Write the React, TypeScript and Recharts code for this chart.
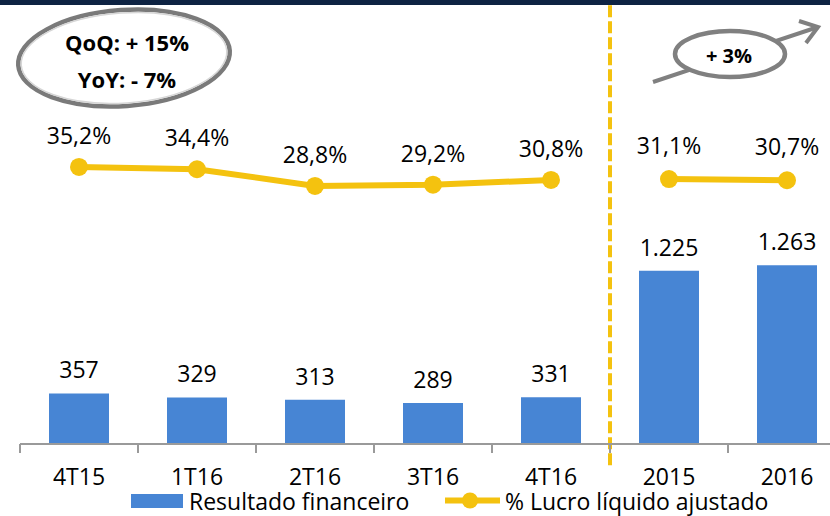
import React from "react";
import {
  ComposedChart,
  Bar,
  Line,
  XAxis,
  YAxis,
  Legend,
  LabelList,
  ReferenceLine,
} from "recharts";

const categories = ["4T15", "1T16", "2T16", "3T16", "4T16", "2015", "2016"];
const resultado = [357, 329, 313, 289, 331, 1225, 1263];
const lucroPct = [35.2, 34.4, 28.8, 29.2, 30.8, 31.1, 30.7];
const periodo = ["tri", "tri", "tri", "tri", "tri", "ano", "ano"];

const data = categories.map((cat, i) => ({
  cat,
  resultado: resultado[i],
  pctTri: periodo[i] === "tri" ? lucroPct[i] : null,
  pctAno: periodo[i] === "ano" ? lucroPct[i] : null,
}));

const BLUE = "#4785D4";
const YELLOW = "#F4C20F";
const NAVY = "#0E2343";
const FONT = "'Open Sans', sans-serif";

const fmtMil = (v: any) =>
  v == null ? "" : String(v).replace(/\B(?=(\d{3})+(?!\d))/g, ".");
const fmtPct = (v: any) =>
  v == null ? "" : Number(v).toFixed(1).replace(".", ",") + "%";

function CatTick(props: any) {
  const { x, y, payload } = props;
  const half = payload && payload.offset ? payload.offset : 59;
  return (
    <g>
      <line
        x1={x - half}
        x2={x - half}
        y1={y - 25}
        y2={y - 16}
        stroke="#9a9a9a"
        strokeWidth={2}
      />
      <text
        x={x}
        y={y + 16}
        textAnchor="middle"
        fontFamily={FONT}
        fontSize={23}
        fill="#000"
      >
        {payload.value}
      </text>
    </g>
  );
}

function LegendBox() {
  return (
    <svg width={830} height={24} style={{ display: "block", overflow: "visible" }}>
      <rect x={131} y={2} width={52} height={14} fill={BLUE} />
      <text x={189} y={18} fontFamily={FONT} fontSize={23} fill="#000">
        Resultado financeiro
      </text>
      <line x1={445} x2={500} y1={8.5} y2={8.5} stroke={YELLOW} strokeWidth={6} />
      <circle cx={470} cy={8.5} r={8} fill={YELLOW} />
      <text x={505} y={18} fontFamily={FONT} fontSize={23} fill="#000">
        % Lucro líquido ajustado
      </text>
    </svg>
  );
}

export default function App() {
  return (
    <div
      style={{
        position: "absolute",
        left: 0,
        top: 0,
        width: 830,
        height: 516,
        overflow: "hidden",
        background: "#fff",
      }}
    >
      <div
        style={{
          position: "absolute",
          left: 0,
          top: 0,
          width: 830,
          height: 5,
          background: NAVY,
          zIndex: 2,
        }}
      />
      <ComposedChart
        width={846}
        height={516}
        data={data}
        margin={{ top: 5, right: 0, bottom: 0, left: 20 }}
      >
        <XAxis
          dataKey="cat"
          interval={0}
          height={48}
          tickLine={false}
          tickSize={0}
          tickMargin={25}
          axisLine={{ stroke: "#9a9a9a", strokeWidth: 2 }}
          tick={<CatTick />}
        />
        <YAxis yAxisId="left" hide domain={[0, 3102]} allowDataOverflow />
        <YAxis
          yAxisId="right"
          orientation="right"
          hide
          domain={[-58.1, 89.7]}
          allowDataOverflow
        />
        <Legend
          verticalAlign="bottom"
          height={24}
          wrapperStyle={{ left: 0, width: 830 }}
          content={() => <LegendBox />}
        />
        <Bar
          yAxisId="left"
          dataKey="resultado"
          name="Resultado financeiro"
          fill={BLUE}
          barSize={60}
          isAnimationActive={false}
        >
          <LabelList
            dataKey="resultado"
            position="top"
            offset={15}
            formatter={fmtMil}
            fill="#000"
            fontSize={23}
            fontFamily={FONT}
          />
        </Bar>
        <Line
          yAxisId="right"
          dataKey="pctTri"
          name="% Lucro líquido ajustado"
          stroke={YELLOW}
          strokeWidth={6}
          dot={{ r: 9, fill: YELLOW, stroke: YELLOW, strokeWidth: 0 }}
          activeDot={false}
          isAnimationActive={false}
        >
          <LabelList
            dataKey="pctTri"
            position="top"
            offset={23}
            formatter={fmtPct}
            fill="#000"
            fontSize={23}
            fontFamily={FONT}
          />
        </Line>
        <Line
          yAxisId="right"
          dataKey="pctAno"
          legendType="none"
          stroke={YELLOW}
          strokeWidth={6}
          dot={{ r: 9, fill: YELLOW, stroke: YELLOW, strokeWidth: 0 }}
          activeDot={false}
          isAnimationActive={false}
        >
          <LabelList
            dataKey="pctAno"
            position="top"
            offset={25}
            formatter={fmtPct}
            fill="#000"
            fontSize={23}
            fontFamily={FONT}
          />
        </Line>
        <ReferenceLine
          yAxisId="left"
          segment={[
            { x: "4T16", y: -150 },
            { x: "4T16", y: 3102 },
          ]}
          position="end"
          ifOverflow="visible"
          stroke={YELLOW}
          strokeWidth={4}
          strokeDasharray="12 4"
        />
      </ComposedChart>
      <svg
        width={830}
        height={130}
        style={{ position: "absolute", left: 0, top: 0, pointerEvents: "none" }}
      >
        <g transform="rotate(-4 124 58)">
          <ellipse cx={124} cy={58} rx={106} ry={48} fill="#fff" stroke="#7a7a7a" strokeWidth={4.5} />
          <ellipse cx={124} cy={58} rx={103} ry={45} fill="none" stroke="#d6d6d6" strokeWidth={1.5} />
        </g>
        <text x={127} y={51} textAnchor="middle" fontFamily={FONT} fontWeight={700} fontSize={22} fill="#000">
          QoQ: + 15%
        </text>
        <text x={127} y={88} textAnchor="middle" fontFamily={FONT} fontWeight={700} fontSize={22} fill="#000">
          YoY: - 7%
        </text>
        <line x1={653} y1={82} x2={818} y2={27} stroke="#808080" strokeWidth={4} />
        <polyline points="799,21 818,27 806,43" fill="none" stroke="#808080" strokeWidth={4} />
        <ellipse cx={730} cy={54} rx={55} ry={23} fill="#fff" stroke="#808080" strokeWidth={4.5} />
        <text x={729} y={63} textAnchor="middle" fontFamily={FONT} fontWeight={700} fontSize={20} fill="#000">
          + 3%
        </text>
      </svg>
    </div>
  );
}
